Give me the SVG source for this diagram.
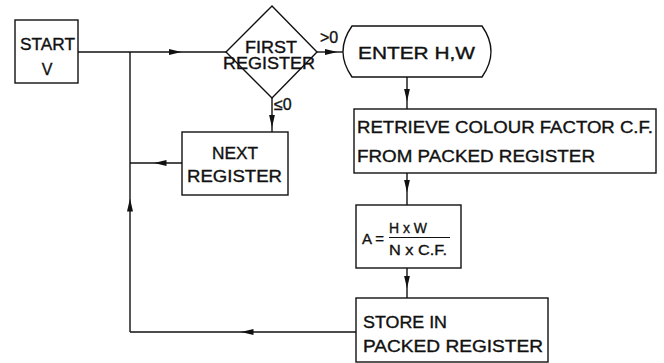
<svg xmlns="http://www.w3.org/2000/svg" width="664" height="363" viewBox="0 0 664 363">
<style>
.n{fill:#fff;stroke:#111;stroke-width:1.4}
.c{fill:none;stroke:#111;stroke-width:1.4;marker-mid:url(#ah)}
.p{fill:none;stroke:#111;stroke-width:1.4}
text{font-family:"Liberation Sans","DejaVu Sans",sans-serif;font-size:16px;fill:#111;stroke:#111;stroke-width:0.35}
.f{font-size:15px}
</style>
<defs>
<marker id="ah" viewBox="0 0 13 7" refX="6.5" refY="3.5" markerWidth="13" markerHeight="7" markerUnits="userSpaceOnUse" orient="auto">
<path d="M0,0.5 L13,3.5 L0,6.5 Z" fill="#111"/>
</marker>
</defs>
<rect width="664" height="363" fill="#fff"/>
<g id="connectors">
<path class="c" d="M78,52 L175,52 L226,52"/>
<path class="c" d="M317,52 L331,52 L343,52"/>
<path class="c" d="M272,98 L272,121 L272,132"/>
<path class="c" d="M182,163 L160,163 L130,163"/>
<path class="c" d="M407,77 L407,95 L407,109"/>
<path class="c" d="M407,173 L407,186 L407,205"/>
<path class="c" d="M407,268 L407,282 L407,298"/>
<path class="c" d="M356,332 L247,332 L130,332"/>
<path class="c" d="M130,332 L130,205 L130,52"/>
<text x="320" y="43">&gt;0</text>
<text x="274" y="110">≤0</text>
</g>
<g id="start">
<rect class="n" x="15" y="20" width="63" height="63"/>
<text x="20" y="50" textLength="55" lengthAdjust="spacingAndGlyphs">START</text>
<text x="47" y="75" text-anchor="middle">V</text>
</g>
<g id="first-register">
<path class="n" d="M272,6 L317,52 L272,98 L226,52 Z"/>
<text x="245" y="53" textLength="52" lengthAdjust="spacingAndGlyphs">FIRST</text>
<text x="223" y="69" textLength="92" lengthAdjust="spacingAndGlyphs">REGISTER</text>
</g>
<g id="next-register">
<rect class="n" x="182" y="132" width="106" height="63"/>
<text x="212" y="159" textLength="46" lengthAdjust="spacingAndGlyphs">NEXT</text>
<text x="187" y="182" textLength="95" lengthAdjust="spacingAndGlyphs">REGISTER</text>
</g>
<g id="enter">
<path class="n" d="M352,26 H482 Q500,51.5 482,77 H352 Q334,51.5 352,26 Z"/>
<text x="358" y="59" textLength="117" lengthAdjust="spacingAndGlyphs">ENTER H,W</text>
</g>
<g id="retrieve">
<rect class="n" x="354" y="109" width="302" height="64"/>
<text x="357" y="133" textLength="296" lengthAdjust="spacingAndGlyphs">RETRIEVE COLOUR FACTOR C.F.</text>
<text x="357" y="162" textLength="238" lengthAdjust="spacingAndGlyphs">FROM PACKED REGISTER</text>
</g>
<g id="formula">
<rect class="n" x="356" y="205" width="105" height="63"/>
<text class="f" x="362" y="244">A =</text>
<text class="f" x="389" y="233" textLength="38" lengthAdjust="spacingAndGlyphs">H x W</text>
<line x1="389" y1="237.5" x2="450" y2="237.5" stroke="#111" stroke-width="1.2"/>
<text class="f" x="389" y="255" textLength="58" lengthAdjust="spacingAndGlyphs">N x C.F.</text>
</g>
<g id="store">
<rect class="n" x="356" y="298" width="192" height="64"/>
<text x="363" y="328" textLength="84" lengthAdjust="spacingAndGlyphs">STORE IN</text>
<text x="363" y="352" textLength="180" lengthAdjust="spacingAndGlyphs">PACKED REGISTER</text>
</g>
</svg>
